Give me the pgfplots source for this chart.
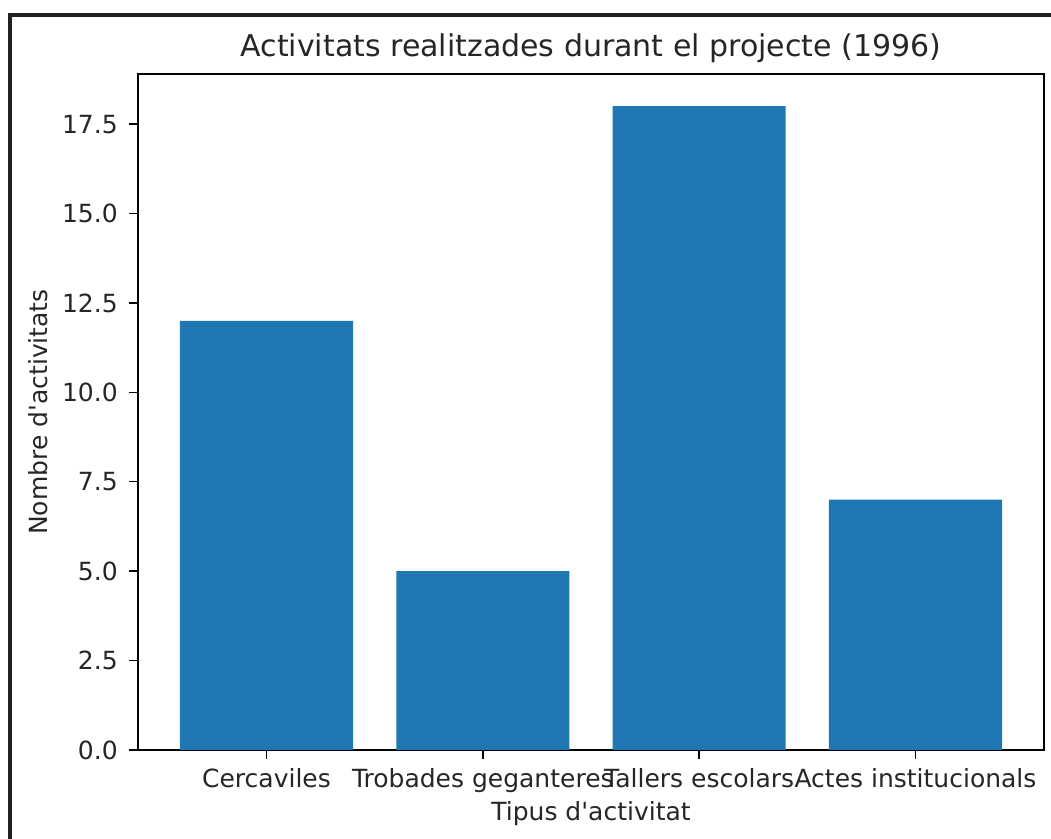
\documentclass[border=0pt]{standalone}
\usepackage{pgfplots}
\pgfplotsset{compat=1.18}
\usepackage{fontspec}
\setmainfont{DejaVu Sans}
\definecolor{barblue}{HTML}{1F77B4}
\definecolor{frame}{HTML}{222222}
\begin{document}
\begin{tikzpicture}
\path[use as bounding box] (0,0) rectangle (788.25pt,629.25pt);
\fill[frame] (6pt,0pt) rectangle (9pt,619.5pt);
\fill[frame] (6pt,616.5pt) rectangle (788.25pt,619.5pt);
\begin{axis}[
  at={(103.5pt,66.75pt)}, anchor=south west,
  scale only axis, width=679.5pt, height=507pt,
  xmin=-0.594, xmax=3.594, ymin=0, ymax=18.9,
  xtick={0,1,2,3},
  xticklabels={Cercaviles,Trobades geganteres,Tallers escolars,Actes institucionals},
  ytick={0,2.5,5,7.5,10,12.5,15,17.5},
  yticklabel style={/pgf/number format/fixed,/pgf/number format/precision=1,/pgf/number format/fixed zerofill,
    anchor=east, inner sep=0pt, xshift=-8.4pt},
  /pgf/number format/assume math mode=true,
  ticklabel style={font=\fontsize{18.75}{22}\selectfont, text=black!85},
  xticklabel style={anchor=base, inner sep=0pt, yshift=-21.9pt},
  tick align=outside, major tick length=6.6pt,
  tick style={line width=1pt, black},
  xtick pos=bottom, ytick pos=left,
  axis line style={line width=1.2pt, black},
  title={Activitats realitzades durant el projecte (1996)},
  title style={font=\fontsize{22.5}{27}\selectfont, text=black!85, at={(0.5,1)}, anchor=base, inner sep=0pt, yshift=7pt},
  xlabel={Tipus d\textquotesingle activitat},
  xlabel style={font=\fontsize{18.75}{22}\selectfont, text=black!85, at={(0.5,0)}, anchor=base, inner sep=0pt, yshift=-53.25pt},
  ylabel={Nombre d\textquotesingle activitats},
  ylabel style={font=\fontsize{18.75}{22}\selectfont, text=black!85, at={(axis description cs:-0.1104,0.5)}, anchor=center, inner sep=0pt},
]
\addplot[ybar, bar width=0.8, fill=barblue, draw=none] coordinates {(0,12) (1,5) (2,18) (3,7)};
\end{axis}
\end{tikzpicture}
\end{document}
